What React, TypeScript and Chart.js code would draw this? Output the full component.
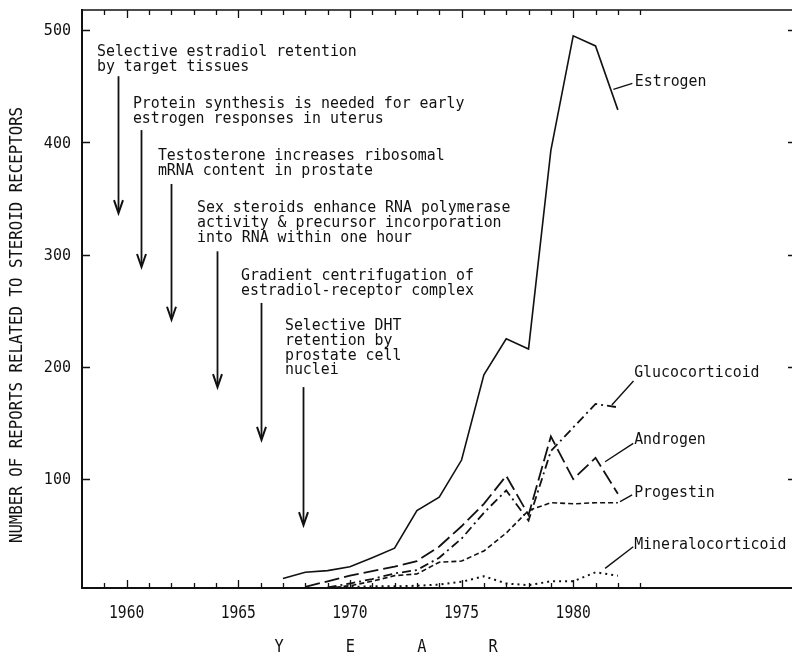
import React, { useEffect, useRef } from 'react';
import { Chart, registerables } from 'chart.js';

Chart.register(...registerables);

// ---------- data ----------
const YEARS = [1967, 1968, 1969, 1970, 1971, 1972, 1973, 1974, 1975, 1976, 1977, 1978, 1979, 1980, 1981, 1982];
const ESTROGEN = [11.5, 17, 18.5, 22, 30, 38.5, 72, 84, 117, 193, 225, 216, 393, 495, 486, 429];
const GLUCOCORTICOID = [null, null, 3.5, 7, 11, 16, 19, 30, 47, 70, 90, 63, 125, 146, 167, 164];
const ANDROGEN = [null, 4, 9, 14, 18, 22, 27, 40, 58, 78, 103, 68, 138, 100, 119, 87];
const PROGESTIN = [null, null, 3, 5, 9, 14, 15.5, 26, 27, 36, 52, 72, 79, 78, 79, 79];
const MINERALOCORTICOID = [null, null, 3, 4, 4.5, 4.5, 5, 6, 8.5, 13.5, 7, 5.5, 9, 9, 17, 14];

const X_TICK_LABELS = [1960, 1965, 1970, 1975, 1980];
const Y_TICK_LABELS = [100, 200, 300, 400, 500];
const X_TITLE_LETTERS = ['Y', 'E', 'A', 'R'];
const Y_TITLE = 'NUMBER OF REPORTS RELATED TO STEROID RECEPTORS';

// historical events (arrows)
const EVENT_TEXTS = [
  ['Selective estradiol retention', 'by target tissues'],
  ['Protein synthesis is needed for early', 'estrogen responses in uterus'],
  ['Testosterone increases ribosomal', 'mRNA content in prostate'],
  ['Sex steroids enhance RNA polymerase', 'activity & precursor incorporation', 'into RNA within one hour'],
  ['Gradient centrifugation of', 'estradiol-receptor complex'],
  ['Selective DHT', 'retention by', 'prostate cell', 'nuclei'],
];
const EVENT_ARROW_YEAR = [1959.6, 1960.65, 1962.0, 1964.05, 1966.0, 1967.9];
const EVENT_ARROW_TOP = [459, 411, 363, 303, 257, 182];
const EVENT_ARROW_BOTTOM = [337, 289, 242, 182, 135, 59];
const EVENT_TEXT_YEAR = [1958.67, 1960.28, 1961.4, 1963.15, 1965.12, 1967.09];
const EVENT_TEXT_VALUE = [477, 430.6, 384.3, 338, 277.4, 232.8];

// series labels with leader lines
const LABEL_NAMES = ['Estrogen', 'Glucocorticoid', 'Androgen', 'Progestin', 'Mineralocorticoid'];
const LABEL_FROM_YEAR = [1981.8, 1981.73, 1981.43, 1982.1, 1981.43];
const LABEL_FROM_VALUE = [447.3, 166.0, 115.5, 79.9, 20.5];
const LABEL_TO_YEAR = [1982.65, 1982.7, 1982.69, 1982.64, 1982.69];
const LABEL_TO_VALUE = [452.6, 187.4, 131.9, 85.9, 39.8];
const LABEL_TEXT_YEAR = [1982.76, 1982.73, 1982.73, 1982.73, 1982.73];
const LABEL_TEXT_VALUE = [454.0, 194.5, 134.8, 87.6, 41.3];

const FONT = '"DejaVu Sans Mono", "Liberation Mono", monospace';
const INK = '#111';

function condText(ctx: CanvasRenderingContext2D, text: string, x: number, y: number, size: number, sx: number, align: CanvasTextAlign, baseline: CanvasTextBaseline = 'alphabetic') {
  ctx.save();
  ctx.font = `${size}px ${FONT}`;
  ctx.fillStyle = INK;
  ctx.textAlign = align;
  ctx.textBaseline = baseline;
  ctx.translate(x, y);
  ctx.scale(sx, 1);
  ctx.fillText(text, 0, 0);
  ctx.restore();
}

const decorPlugin = {
  id: 'decor',
  beforeDraw(chart: any) {
    const ctx = chart.ctx as CanvasRenderingContext2D;
    ctx.save();
    ctx.fillStyle = '#fff';
    ctx.fillRect(0, 0, chart.width, chart.height);
    ctx.restore();
  },
  afterDatasetsDraw(chart: any) {
    const ctx = chart.ctx as CanvasRenderingContext2D;
    const xs = chart.scales.x;
    const ys = chart.scales.y;
    const { left, right, top, bottom } = chart.chartArea;
    ctx.save();
    ctx.strokeStyle = INK;
    ctx.lineCap = 'butt';

    // frame
    ctx.lineWidth = 2;
    ctx.beginPath();
    ctx.moveTo(left, top - 1);
    ctx.lineTo(left, bottom);
    ctx.lineTo(right, bottom);
    ctx.stroke();
    ctx.lineWidth = 1.5;
    ctx.beginPath();
    ctx.moveTo(left, top);
    ctx.lineTo(right, top);
    ctx.stroke();

    // x ticks (inside, top and bottom)
    ctx.lineWidth = 1.3;
    for (let yr = 1959; yr <= 1983; yr++) {
      const px = Math.round(xs.getPixelForValue(yr)) + 0.5;
      const len = yr % 5 === 0 ? 8 : 5;
      ctx.beginPath();
      ctx.moveTo(px, bottom);
      ctx.lineTo(px, bottom - len);
      ctx.moveTo(px, top);
      ctx.lineTo(px, top + len);
      ctx.stroke();
    }
    // y ticks (inside, left and right)
    for (const v of Y_TICK_LABELS) {
      const py = Math.round(ys.getPixelForValue(v)) + 0.5;
      ctx.beginPath();
      ctx.moveTo(left, py);
      ctx.lineTo(left + 8, py);
      ctx.moveTo(right, py);
      ctx.lineTo(right - 4, py);
      ctx.stroke();
    }

    // tick labels
    for (const v of X_TICK_LABELS) {
      condText(ctx, String(v), xs.getPixelForValue(v), bottom + 30, 17, 0.86, 'center');
    }
    for (const v of Y_TICK_LABELS) {
      condText(ctx, String(v), left - 11, ys.getPixelForValue(v) + 1, 16, 0.94, 'right', 'middle');
    }

    // axis titles
    const cx = xs.getPixelForValue(1971.62);
    X_TITLE_LETTERS.forEach((ch, i) => {
      condText(ctx, ch, cx + (i - 1.5) * 71.3, bottom + 59, 18, 0.85, 'center', 'middle');
    });
    ctx.save();
    ctx.translate(17, (top + bottom) / 2 + 26);
    ctx.rotate(-Math.PI / 2);
    condText(ctx, Y_TITLE, 0, 0, 18, 0.875, 'center', 'middle');
    ctx.restore();

    // event annotations
    EVENT_TEXTS.forEach((lines, i) => {
      const tx = xs.getPixelForValue(EVENT_TEXT_YEAR[i]);
      const ty = ys.getPixelForValue(EVENT_TEXT_VALUE[i]);
      lines.forEach((ln, j) => condText(ctx, ln, tx, ty + j * 14.8, 16, 0.93, 'left'));
      const ax = Math.round(xs.getPixelForValue(EVENT_ARROW_YEAR[i])) + 0.5;
      const at = ys.getPixelForValue(EVENT_ARROW_TOP[i]);
      const ab = ys.getPixelForValue(EVENT_ARROW_BOTTOM[i]);
      ctx.lineWidth = 1.8;
      ctx.beginPath();
      ctx.moveTo(ax, at);
      ctx.lineTo(ax, ab - 2);
      ctx.stroke();
      ctx.lineWidth = 2;
      ctx.beginPath();
      ctx.moveTo(ax - 4.5, ab - 13);
      ctx.lineTo(ax, ab);
      ctx.lineTo(ax + 4.5, ab - 13);
      ctx.stroke();
    });

    // series labels with leaders
    ctx.lineWidth = 1.4;
    LABEL_NAMES.forEach((name, i) => {
      ctx.beginPath();
      ctx.moveTo(xs.getPixelForValue(LABEL_FROM_YEAR[i]), ys.getPixelForValue(LABEL_FROM_VALUE[i]));
      ctx.lineTo(xs.getPixelForValue(LABEL_TO_YEAR[i]), ys.getPixelForValue(LABEL_TO_VALUE[i]));
      ctx.stroke();
      condText(ctx, name, xs.getPixelForValue(LABEL_TEXT_YEAR[i]), ys.getPixelForValue(LABEL_TEXT_VALUE[i]), 16, 0.93, 'left', 'middle');
    });

    ctx.restore();
  },
};

function series(values: (number | null)[]) {
  return YEARS.map((yr, i) => ({ x: yr, y: values[i] }));
}

export default function App() {
  const ref = useRef<HTMLCanvasElement>(null);
  useEffect(() => {
    document.body.style.margin = '0';
    const base = { borderColor: INK, pointRadius: 0, tension: 0, fill: false, spanGaps: false };
    const chart = new Chart(ref.current as HTMLCanvasElement, {
      type: 'line',
      data: {
        datasets: [
          { ...base, label: 'Estrogen', data: series(ESTROGEN), borderWidth: 1.6 },
          { ...base, label: 'Glucocorticoid', data: series(GLUCOCORTICOID), borderWidth: 1.8, borderDash: [9, 4, 2, 4] },
          { ...base, label: 'Androgen', data: series(ANDROGEN), borderWidth: 1.8, borderDash: [15, 5] },
          { ...base, label: 'Progestin', data: series(PROGESTIN), borderWidth: 1.6, borderDash: [5, 3] },
          { ...base, label: 'Mineralocorticoid', data: series(MINERALOCORTICOID), borderWidth: 2, borderDash: [2, 4] },
        ] as any,
      },
      options: {
        responsive: false,
        animation: false,
        layout: { padding: { left: 82, right: 0, top: 10, bottom: 69 } },
        plugins: { legend: { display: false }, tooltip: { enabled: false }, title: { display: false } },
        scales: {
          x: { type: 'linear', min: 1958, max: 1989.8, display: false },
          y: { type: 'linear', min: 3, max: 518, display: false },
        },
      },
      plugins: [decorPlugin],
    });
    return () => chart.destroy();
  }, []);
  return (
    <div style={{ width: 792, height: 657, background: '#fff', overflow: 'hidden' }}>
      <canvas ref={ref} width={792} height={657} style={{ display: 'block' }} />
    </div>
  );
}
